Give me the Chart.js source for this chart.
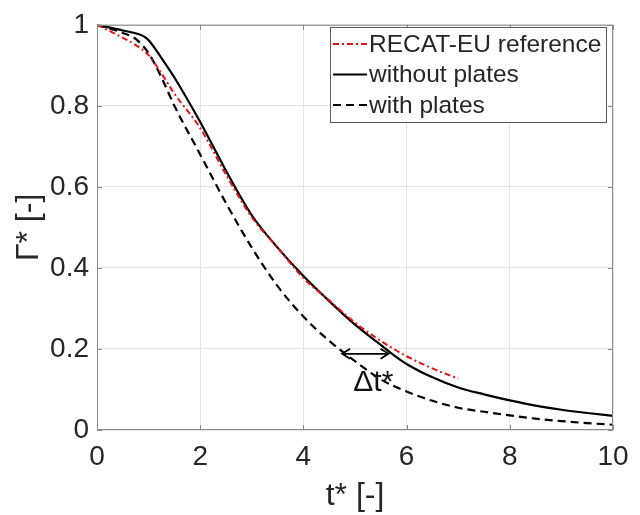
<!DOCTYPE html>
<html>
<head>
<meta charset="utf-8">
<script src="https://cdn.jsdelivr.net/npm/chart.js@4/dist/chart.umd.min.js"></script>
<style>
  html, body { margin: 0; padding: 0; background: #fff; }
  #wrap { width: 640px; height: 515px; }
</style>
</head>
<body>
<div id="wrap"><canvas id="ChartCanvas" width="640" height="515"></canvas></div>
<script>
// values
var tRecat = [0, 0.35, 0.75, 1.0, 1.25, 1.5, 2.0, 2.5, 3.0, 3.5, 4.0, 4.5, 5.0, 5.5, 6.0, 6.5, 7.0];
var gammaRecat = [1.0, 0.978, 0.95, 0.925, 0.88, 0.83, 0.745, 0.63, 0.525, 0.45, 0.375, 0.32, 0.265, 0.22, 0.182, 0.152, 0.127];

var tWithout = [0, 0.5, 0.9, 1.0, 1.25, 1.5, 2.0, 2.5, 3.0, 3.5, 4.0, 4.5, 5.0, 5.5, 5.75, 6.0, 6.5, 7.0, 7.5, 8.0, 8.5, 9.0, 9.5, 10.0];
var gammaWithout = [1.0, 0.986, 0.972, 0.962, 0.918, 0.87, 0.76, 0.64, 0.53, 0.45, 0.38, 0.318, 0.26, 0.21, 0.185, 0.163, 0.13, 0.105, 0.088, 0.073, 0.06, 0.05, 0.042, 0.035];

var tWith = [0, 0.5, 0.75, 1.0, 1.25, 1.5, 2.0, 2.5, 3.0, 3.5, 4.0, 4.5, 5.0, 5.5, 6.0, 6.5, 7.0, 7.5, 8.0, 8.5, 9.0, 9.5, 10.0];
var gammaWith = [1.0, 0.98, 0.965, 0.93, 0.87, 0.80, 0.68, 0.56, 0.45, 0.355, 0.28, 0.22, 0.17, 0.125, 0.095, 0.072, 0.055, 0.045, 0.036, 0.028, 0.022, 0.017, 0.013];

var xTicks = [0, 2, 4, 6, 8, 10];
var yTicks = [0, 0.2, 0.4, 0.6, 0.8, 1];

var legendLabels = ["RECAT-EU reference", "without plates", "with plates"];
var deltaArrowT = [4.75, 5.65]; // ends of the delta t* arrow
var deltaArrowGamma = 0.188;

var fontName = "'Liberation Sans', Arial, sans-serif";
var textColor = '#262626';

function toPoints(xs, ys)
{
    var pts = [];
    for (var i = 0; i < xs.length; i++) pts.push({x: xs[i], y: ys[i]});
    return pts;
}

var styles = [
    {color: 'rgb(225, 20, 20)', width: 2, dash: [6, 3, 2, 3]},
    {color: '#000000', width: 2.2, dash: []},
    {color: '#000000', width: 2.2, dash: [8, 5]}
];

var boxPlugin = {
    id: 'boxPlugin',
    afterDraw: function(chart)
    {
        var ctx = chart.ctx;
        var a = chart.chartArea;
        var xs = chart.scales.x, ys = chart.scales.y;
        ctx.save();
        // axes box
        ctx.strokeStyle = '#8a8a8a';
        ctx.lineWidth = 1;
        ctx.strokeRect(a.left + 0.5, a.top + 0.5, a.right - a.left - 1, a.bottom - a.top - 1);
        // inward ticks
        ctx.beginPath();
        xTicks.forEach(function(v) {
            var px = Math.round(xs.getPixelForValue(v)) + 0.5;
            ctx.moveTo(px, a.bottom); ctx.lineTo(px, a.bottom - 5);
            ctx.moveTo(px, a.top); ctx.lineTo(px, a.top + 5);
        });
        yTicks.forEach(function(v) {
            var py = Math.round(ys.getPixelForValue(v)) + 0.5;
            ctx.moveTo(a.left, py); ctx.lineTo(a.left + 5, py);
            ctx.moveTo(a.right, py); ctx.lineTo(a.right - 5, py);
        });
        ctx.stroke();

        // delta t* arrow
        var x1 = xs.getPixelForValue(deltaArrowT[0]);
        var x2 = xs.getPixelForValue(deltaArrowT[1]);
        var ay = ys.getPixelForValue(deltaArrowGamma);
        ctx.strokeStyle = '#000';
        ctx.lineWidth = 1.8;
        ctx.beginPath();
        ctx.moveTo(x1, ay); ctx.lineTo(x2, ay);
        ctx.moveTo(x1 + 8, ay - 5); ctx.lineTo(x1, ay); ctx.lineTo(x1 + 8, ay + 5);
        ctx.moveTo(x2 - 8, ay - 5); ctx.lineTo(x2, ay); ctx.lineTo(x2 - 8, ay + 5);
        ctx.stroke();
        ctx.fillStyle = '#111';
        ctx.font = '30px ' + fontName;
        ctx.textAlign = 'center';
        ctx.textBaseline = 'alphabetic';
        ctx.fillText('\u0394t*', (x1 + x2) / 2 + 8, ay + 37);

        // legend
        var lx = 330, ly = 27, lw = 276, lh = 95;
        ctx.fillStyle = '#fff';
        ctx.fillRect(lx, ly, lw, lh);
        ctx.strokeStyle = '#5a5a5a';
        ctx.lineWidth = 1;
        ctx.strokeRect(lx + 0.5, ly + 0.5, lw, lh);
        ctx.font = '24.5px ' + fontName;
        ctx.textAlign = 'left';
        ctx.textBaseline = 'middle';
        for (var i = 0; i < legendLabels.length; i++)
        {
            var rowY = ly + 17 + i * 30.5;
            ctx.strokeStyle = styles[i].color;
            ctx.lineWidth = styles[i].width;
            ctx.setLineDash(styles[i].dash);
            ctx.beginPath();
            ctx.moveTo(lx + 3, rowY); ctx.lineTo(lx + 37, rowY);
            ctx.stroke();
            ctx.setLineDash([]);
            ctx.fillStyle = textColor;
            ctx.fillText(legendLabels[i], lx + 39, rowY + 1);
        }
        ctx.restore();
    }
};

function plainLabel(value)
{
    return String(Math.round(value * 100) / 100);
}

var data = {
    datasets: [
        {
            label: legendLabels[0],
            data: toPoints(tRecat, gammaRecat),
            borderColor: styles[0].color,
            borderWidth: styles[0].width,
            borderDash: styles[0].dash,
        },
        {
            label: legendLabels[1],
            data: toPoints(tWithout, gammaWithout),
            borderColor: styles[1].color,
            borderWidth: styles[1].width,
            borderDash: styles[1].dash,
        },
        {
            label: legendLabels[2],
            data: toPoints(tWith, gammaWith),
            borderColor: styles[2].color,
            borderWidth: styles[2].width,
            borderDash: styles[2].dash,
        }
    ]
};

var config = {
    type: 'line',
    data: data,
    plugins: [boxPlugin],
    options: {
        responsive: false,
        animation: false,
        layout: { padding: { top: 18, right: 27, left: 0, bottom: 0 } },
        elements: {
            point: { radius: 0 },
            line: { cubicInterpolationMode: 'monotone', fill: false }
        },
        plugins: {
            legend: { display: false },
            tooltip: { enabled: false }
        },
        scales: {
            x: {
                type: 'linear',
                min: 0,
                max: 10,
                afterFit: function(scale) { scale.height = 85; },
                afterBuildTicks: function(scale) { scale.ticks = xTicks.map(function(v) { return {value: v}; }); },
                grid: { color: '#e3e3e3', drawTicks: false },
                border: { display: false },
                ticks: { color: textColor, padding: 10, font: { family: fontName, size: 28 }, callback: plainLabel },
                title: { display: true, text: 't* [-]', color: textColor, padding: { top: 0, bottom: 0 }, font: { family: fontName, size: 32 } }
            },
            y: {
                type: 'linear',
                min: 0,
                max: 1,
                afterFit: function(scale) { scale.width = 97; },
                afterBuildTicks: function(scale) { scale.ticks = yTicks.map(function(v) { return {value: v}; }); },
                grid: { color: '#e3e3e3', drawTicks: false },
                border: { display: false },
                ticks: { color: textColor, padding: 8, font: { family: fontName, size: 28 }, callback: plainLabel },
                title: { display: true, text: '\u0393* [-]', color: textColor, padding: { top: 10, bottom: 0 }, font: { family: fontName, size: 32 } }
            }
        }
    }
};

var createdChart = new Chart(document.getElementById('ChartCanvas').getContext('2d'), config);
</script>
</body>
</html>
